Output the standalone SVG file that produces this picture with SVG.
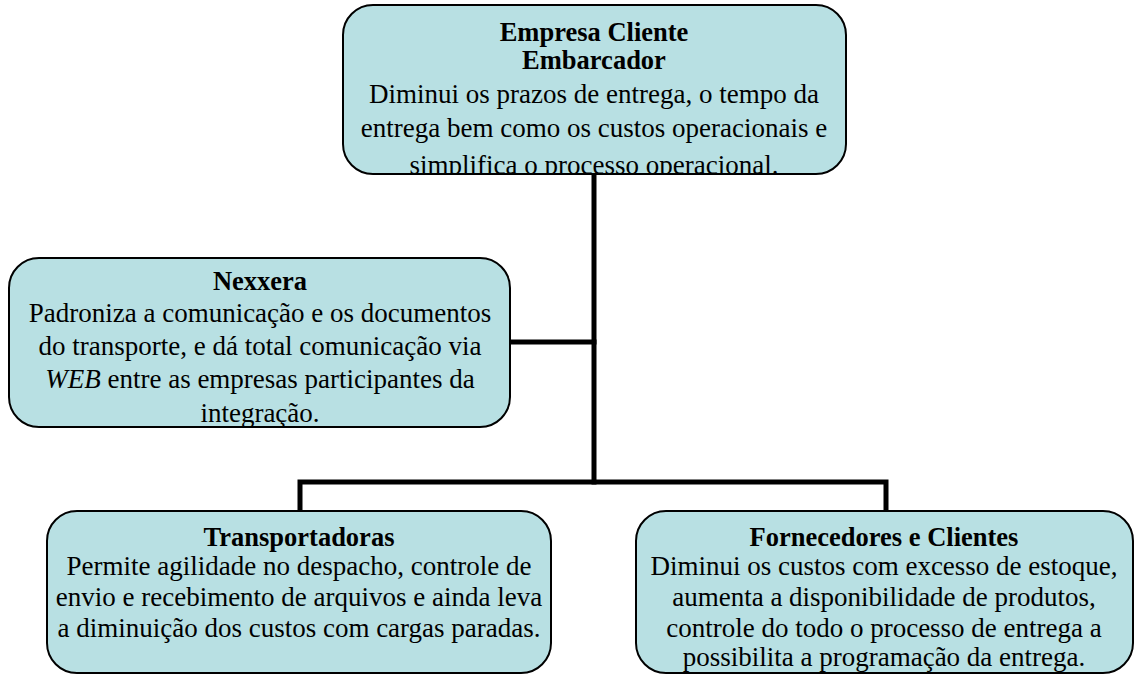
<svg xmlns="http://www.w3.org/2000/svg" width="1136" height="675" viewBox="0 0 1136 675">
<style>
.box{fill:#b8e0e3;stroke:#000;stroke-width:2}
.h{font-family:"Liberation Serif","Times New Roman",serif;font-weight:bold;font-size:26.5px;text-anchor:middle;fill:#000}
.t{font-family:"Liberation Serif","Times New Roman",serif;font-size:27px;text-anchor:middle;fill:#000}
.c{fill:none;stroke:#000;stroke-width:5;stroke-linecap:square;stroke-linejoin:miter}
</style>
<defs>
<clipPath id="cTop"><rect x="343" y="5" width="503" height="169" rx="30"/></clipPath>
<clipPath id="cNex"><rect x="9" y="258" width="501" height="169" rx="30"/></clipPath>
<clipPath id="cTra"><rect x="47" y="511" width="504" height="162" rx="30"/></clipPath>
<clipPath id="cFor"><rect x="636" y="511" width="497" height="162" rx="30"/></clipPath>
</defs>
<rect width="1136" height="675" fill="#fff"/>
<g id="connectors">
<path class="c" d="M594 174 V482"/>
<path class="c" d="M510 342 H594"/>
<path class="c" d="M300 511 V482 H886 V511"/>
</g>
<g id="empresa">
<rect class="box" x="343" y="5" width="503" height="169" rx="30"/>
<g clip-path="url(#cTop)">
<text class="h" x="594" y="41">Empresa Cliente</text>
<text class="h" x="594" y="69">Embarcador</text>
<text class="t" x="594" y="103">Diminui os prazos de entrega, o tempo da</text>
<text class="t" x="594" y="137">entrega bem como os custos operacionais e</text>
<text class="t" x="594" y="174">simplifica o processo operacional.</text>
</g>
</g>
<g id="nexxera">
<rect class="box" x="9" y="258" width="501" height="169" rx="30"/>
<g clip-path="url(#cNex)">
<text class="h" x="260" y="290">Nexxera</text>
<text class="t" x="260" y="322">Padroniza a comunicação e os documentos</text>
<text class="t" x="260" y="355">do transporte, e dá total comunicação via</text>
<text class="t" x="260" y="388"><tspan font-style="italic">WEB</tspan> entre as empresas participantes da</text>
<text class="t" x="260" y="422">integração.</text>
</g>
</g>
<g id="transportadoras">
<rect class="box" x="47" y="511" width="504" height="162" rx="30"/>
<g clip-path="url(#cTra)">
<text class="h" x="299" y="546">Transportadoras</text>
<text class="t" x="299" y="575">Permite agilidade no despacho, controle de</text>
<text class="t" x="299" y="606">envio e recebimento de arquivos e ainda leva</text>
<text class="t" x="299" y="637">a diminuição dos custos com cargas paradas.</text>
</g>
</g>
<g id="fornecedores">
<rect class="box" x="636" y="511" width="497" height="162" rx="30"/>
<g clip-path="url(#cFor)">
<text class="h" x="884" y="546">Fornecedores e Clientes</text>
<text class="t" x="884" y="575">Diminui os custos com excesso de estoque,</text>
<text class="t" x="884" y="606">aumenta a disponibilidade de produtos,</text>
<text class="t" x="884" y="637">controle do todo o processo de entrega a</text>
<text class="t" x="884" y="666">possibilita a programação da entrega.</text>
</g>
</g>
</svg>
